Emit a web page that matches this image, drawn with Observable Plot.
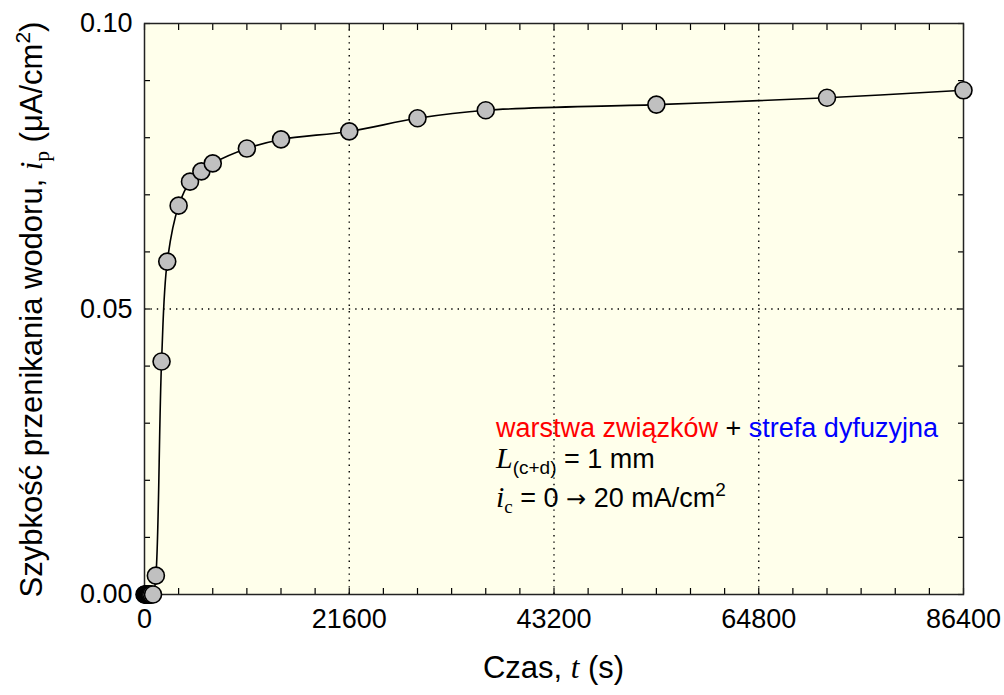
<!DOCTYPE html>
<html><head><meta charset="utf-8">
<script src="https://cdn.jsdelivr.net/npm/d3@7"></script>
<script src="https://cdn.jsdelivr.net/npm/@observablehq/plot@0.6"></script>
<style>
body{margin:0;background:#fff}
svg{font-family:"Liberation Sans",Arial,sans-serif}
</style>
</head><body><div id="chart"></div>
<script>
// time (s) and hydrogen permeation rate (µA/cm²)
const timeS = [0, 60, 120, 180, 240, 300, 360, 420, 480, 540, 600, 720, 900,
  1200, 1800, 2400, 3600, 4800, 6000, 7200, 10800, 14400, 21600, 28800, 36000, 54000, 72000, 86400];
const rate = [0, 0, 0, 0, 0, 0, 0, 0, 0, 0, 0, 0, 0,
  0.0033, 0.0408, 0.0583, 0.0681, 0.0723, 0.0741, 0.0755, 0.0781, 0.0797, 0.0811, 0.0834, 0.0848, 0.0858, 0.0870, 0.0883];
const xTickLabels = [0, 21600, 43200, 64800, 86400];
const yTickLabels = [0.00, 0.05, 0.10];
const xGrid = [21600, 43200, 64800];
const yGrid = [0.05];
const xMinor = d3.range(0, 86400 + 1, 3600);
const yMinor = [0, 0.01, 0.02, 0.03, 0.04, 0.05, 0.06, 0.07, 0.08, 0.09, 0.10];

const data = timeS.map((t, i) => ({t, ip: rate[i]}));
const empty = () => "";

const plot = Plot.plot({
  width: 1004, height: 695,
  marginLeft: 144, marginRight: 41, marginTop: 23, marginBottom: 101,
  style: {fontFamily: "'Liberation Sans', Arial, sans-serif", fontSize: "27px", color: "#000", background: "#fff", overflow: "visible"},
  x: {domain: [0, 86400]},
  y: {domain: [0, 0.1]},
  marks: [
    Plot.frame({fill: "#ffffeb", stroke: null}),
    Plot.ruleX(xGrid, {stroke: "#000", strokeWidth: 1.4, strokeDasharray: "1.4 5"}),
    Plot.ruleY(yGrid, {stroke: "#000", strokeWidth: 1.4, strokeDasharray: "1.4 5"}),
    Plot.axisX({anchor: "bottom", ticks: xMinor, tickSize: -6, tickFormat: empty, label: null, strokeWidth: 1.2}),
    Plot.axisX({anchor: "top", ticks: xMinor, tickSize: -6, tickFormat: empty, label: null, strokeWidth: 1.2}),
    Plot.axisY({anchor: "left", ticks: yMinor, tickSize: -6, tickFormat: empty, label: null, strokeWidth: 1.2}),
    Plot.axisY({anchor: "right", ticks: yMinor, tickSize: -6, tickFormat: empty, label: null, strokeWidth: 1.2}),
    Plot.axisX({anchor: "bottom", ticks: xTickLabels, tickSize: 0, tickPadding: 14, tickFormat: d => String(d), label: null, fontSize: 27}),
    Plot.axisY({anchor: "left", ticks: yTickLabels, tickSize: 0, tickPadding: 12, tickFormat: d3.format(".2f"), label: null, fontSize: 27}),
    Plot.frame({stroke: "#222", strokeWidth: 1.5}),
    Plot.line(data, {x: "t", y: "ip", curve: "catmull-rom", stroke: "#000", strokeWidth: 1.6}),
    Plot.dot(data, {x: "t", y: "ip", r: 8.5, fill: "#c0c0c0", stroke: "#000", strokeWidth: 1.6})
  ]
});
document.getElementById("chart").appendChild(plot);

const svg = d3.select(plot);
const sx = plot.scale("x"), sy = plot.scale("y");
const serif = "'Liberation Serif','Times New Roman',serif";

// x-axis title
const xt = svg.append("text").attr("x", sx.apply(43200)).attr("y", 678)
  .attr("text-anchor", "middle").attr("font-size", 31).attr("fill", "#000");
xt.append("tspan").text("Czas, ");
xt.append("tspan").attr("font-family", serif).attr("font-style", "italic").text("t");
xt.append("tspan").text(" (s)");

// y-axis title
const yt = svg.append("text").attr("transform", `translate(42,${sy.apply(0.05) + 1}) rotate(-90)`)
  .attr("text-anchor", "middle").attr("font-size", 31).attr("fill", "#000");
yt.append("tspan").text("Szybkość przenikania wodoru, ");
yt.append("tspan").attr("font-family", serif).attr("font-style", "italic").text("i");
yt.append("tspan").attr("font-family", serif).attr("font-size", 21).attr("dy", 7).text("p");
yt.append("tspan").attr("dy", -7).text(" (μA/cm");
yt.append("tspan").attr("font-size", 21).attr("dy", -12).text("2");
yt.append("tspan").attr("dy", 12).text(")");

// annotation
const ax = 496;
const a1 = svg.append("text").attr("x", ax).attr("y", 437).attr("font-size", 27).attr("text-anchor", "start");
a1.append("tspan").attr("fill", "#ff0000").text("warstwa związków");
a1.append("tspan").attr("fill", "#000").text(" + ");
a1.append("tspan").attr("fill", "#0000ff").text("strefa dyfuzyjna");

const a2 = svg.append("text").attr("x", ax).attr("y", 468).attr("font-size", 27).attr("fill", "#000").attr("text-anchor", "start");
a2.append("tspan").attr("font-family", serif).attr("font-style", "italic").attr("font-size", 30).text("L");
a2.append("tspan").attr("font-size", 19).attr("dy", 6).text("(c+d)");
a2.append("tspan").attr("dy", -6).text(" = 1 mm");

const a3 = svg.append("text").attr("x", ax).attr("y", 507).attr("font-size", 27).attr("fill", "#000").attr("text-anchor", "start");
a3.append("tspan").attr("font-family", serif).attr("font-style", "italic").attr("font-size", 30).text("i");
a3.append("tspan").attr("font-family", serif).attr("font-size", 19).attr("dy", 6).text("c");
a3.append("tspan").attr("dy", -6).text(" = 0 ");
a3.append("tspan").attr("font-family", "'DejaVu Sans', sans-serif").attr("font-size", 24).text("→");
a3.append("tspan").text(" 20 mA/cm");
a3.append("tspan").attr("font-size", 19).attr("dy", -11).text("2");
</script>
</body></html>
